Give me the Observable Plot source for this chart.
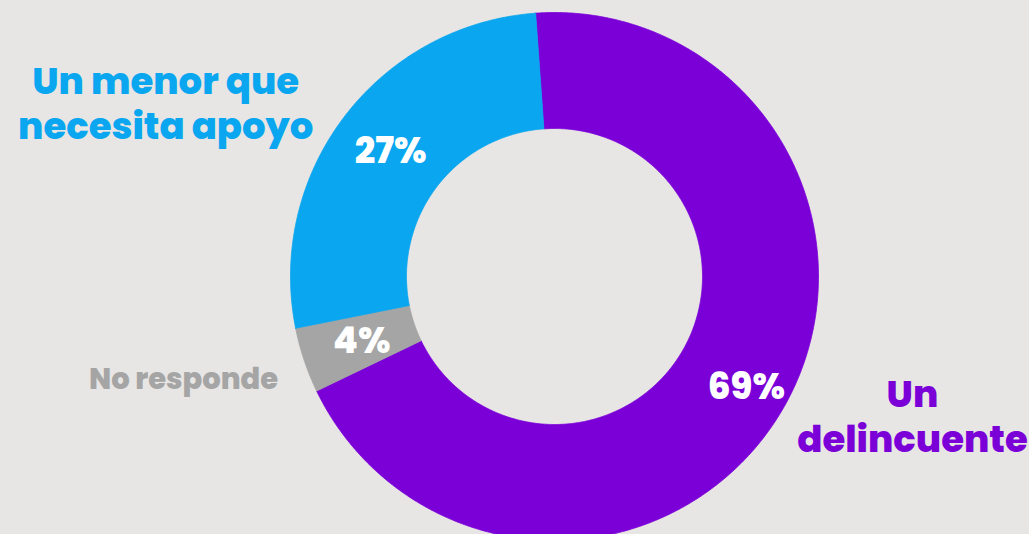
<!DOCTYPE html>
<html>
<head>
<meta charset="utf-8">
<script src="https://cdn.jsdelivr.net/npm/d3@7"></script>
<script src="https://cdn.jsdelivr.net/npm/@observablehq/plot@0.6"></script>
<style>
  html, body { margin: 0; padding: 0; background: #e8e6e4; overflow: hidden; }
  #chart svg { display: block; }
</style>
</head>
<body>
<div id="chart"></div>
<script>
// Data
const categories = ["Un delincuente", "No responde", "Un menor que necesita apoyo"];
const values = [69, 4, 27];
const labels = ["Un\ndelincuente", "No responde", "Un menor que\nnecesita apoyo"];
const colors = ["#7b00d8", "#a5a5a5", "#0aa6ef"];

const W = 1029, H = 534;
const innerR = 0.5606;
const start = -4.1 * Math.PI / 180;
const pie = d3.pie().sort(null).value(d => d).startAngle(start).endAngle(start + 2 * Math.PI)(values);

// build slice polygons in unit coordinates
function slicePoly(a0, a1) {
  const pts = [];
  const n = Math.max(2, Math.ceil((a1 - a0) / (0.4 * Math.PI / 180)));
  for (let i = 0; i <= n; i++) {
    const a = a0 + (a1 - a0) * i / n;
    pts.push({x: Math.sin(a), y: Math.cos(a)});
  }
  for (let i = n; i >= 0; i--) {
    const a = a0 + (a1 - a0) * i / n;
    pts.push({x: innerR * Math.sin(a), y: innerR * Math.cos(a)});
  }
  pts.push(pts[0]);
  return pts;
}

const labR = [0.84, 0.77, 0.78];
const pctData = pie.map((p, i) => {
  const a = (p.startAngle + p.endAngle) / 2;
  return {x: labR[i] * Math.sin(a), y: labR[i] * Math.cos(a), t: values[i] + "%"};
});

// annotation anchors (unit coordinates relative to the ring)
const annPos = [[1.356, -0.525], [-1.405, -0.383], [-1.473, 0.66]];
const annSize = [37, 29, 37];
const annColor = ["#7b00d8", "#a5a5a5", "#0aa6ef"];
const annData = labels.map((l, i) => ({x: annPos[i][0], y: annPos[i][1], t: l, c: annColor[i], s: annSize[i]}));

const font = "Poppins, 'Open Sans', sans-serif";

const marks = [];
pie.forEach((p, i) => {
  marks.push(Plot.line(slicePoly(p.startAngle, p.endAngle), {
    x: "x", y: "y", fill: colors[i], stroke: colors[i], strokeWidth: 0.8, curve: "linear"
  }));
});
marks.push(Plot.text(pctData, {
  x: "x", y: "y", text: "t", fill: "white", fontSize: 36, fontWeight: 800, fontFamily: font
}));
annData.forEach(d => {
  marks.push(Plot.text([d], {
    x: "x", y: "y", text: "t", fill: d.c, fontSize: d.s, fontWeight: 800, fontFamily: font,
    lineHeight: 1.22, textAnchor: "middle"
  }));
});

const chart = Plot.plot({
  width: W, height: H,
  margin: 0,
  style: {background: "#e8e6e4", overflow: "hidden"},
  x: {domain: [-1, 1], range: [290, 818], axis: null},
  y: {domain: [-1, 1], range: [540, 12], axis: null},
  marks
});
document.getElementById("chart").appendChild(chart);
</script>
</body>
</html>
